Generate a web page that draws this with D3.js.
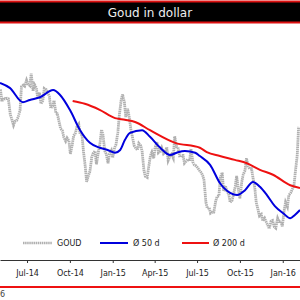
<!DOCTYPE html>
<html><head><meta charset="utf-8">
<script src="https://cdn.jsdelivr.net/npm/d3@7"></script>
<style>body{margin:0;background:#fff}svg{display:block;font-family:"DejaVu Sans",sans-serif}</style>
</head><body><svg id="c" width="300" height="300"></svg>
<script>
const title = "Goud in dollar";
const goldStart = "2014-05-05"; // Monday; two quotes per week (Mon, Thu)
const goldValues = [
1310,1288,1295,1293,1294,1293,1265,1257,1245,1252,1254,1260,1272,1315,1318,1316,1327,1320,1317,1339,
1307,1319,1313,1294,1304,1284,1290,1312,1310,1305,1297,1276,1280,1290,1267,1266,1251,1239,1235,1223,
1216,1222,1217,1193,1209,1226,1231,1242,1247,1229,1228,1199,1170,1142,1154,1161,1187,1194,1198,1174,
1196,1208,1237,1228,1198,1193,1176,1193,1199,1186,1204,1210,1232,1262,1290,1301,1287,1260,1275,1262,
1237,1225,1208,1204,1200,1212,1208,1198,1163,1152,1150,1168,1190,1196,1185,1205,1214,1195,1198,1204,
1193,1195,1205,1181,1189,1192,1185,1225,1206,1205,1187,1190,1190,1176,1180,1183,1180,1202,1178,1173,
1171,1168,1163,1160,1154,1145,1105,1094,1095,1085,1087,1087,1107,1115,1117,1150,1159,1125,1135,1125,
1120,1105,1108,1118,1134,1153,1127,1112,1142,1155,1163,1185,1170,1166,1166,1150,1131,1105,1091,1080,
1083,1071,1076,1070,1063,1057,1071,1072,1060,1058,1076,1070,1070,1061,1090,1105,1097,1118,1122,1128,
1135,1160,1190,1242
];
const ma50Dates = ["2014-05-04","2014-05-25","2014-06-22","2014-07-07","2014-07-29","2014-08-26","2014-09-10","2014-10-01","2014-10-23","2014-11-13","2014-12-04","2014-12-21","2015-01-06","2015-01-17","2015-01-27","2015-02-07","2015-03-05","2015-03-22","2015-04-13","2015-05-04","2015-05-21","2015-06-05","2015-06-27","2015-07-07","2015-07-29","2015-08-19","2015-09-10","2015-09-25","2015-10-12","2015-10-29","2015-11-13","2015-11-28","2015-12-15","2016-01-02","2016-01-17","2016-01-27","2016-02-07"];
const ma50Values = [1322,1313,1287,1291,1296,1309,1300,1273,1236,1213,1204,1200,1195,1200,1218,1231,1236,1224,1204,1191,1196,1198,1195,1189,1173,1140,1122,1118,1127,1142,1133,1118,1098,1085,1076,1082,1091];
const ma200Dates = ["2014-10-07","2014-11-02","2014-12-04","2015-01-06","2015-01-27","2015-02-18","2015-03-22","2015-05-15","2015-07-07","2015-07-22","2015-08-19","2015-09-20","2015-10-16","2015-11-13","2015-12-11","2016-01-17","2016-02-07"];
const ma200Values = [1289,1284,1273,1258,1255,1251,1236,1213,1204,1196,1189,1182,1176,1164,1155,1136,1131];
const legendLabels = ["GOUD","Ø 50 d","Ø 200 d"];
const footText = "6";

const parse = d3.timeParse("%Y-%m-%d");
const svg = d3.select("#c");
const x = d3.scaleTime().domain([parse("2014-05-04"), parse("2016-02-07")]).range([0, 300]);
const y = d3.scaleLinear().domain([1000, 1400]).range([260, 40]);

const start = parse(goldStart);
const gold = goldValues.map((v, i) => ({d: d3.timeDay.offset(start, Math.floor(i/2)*7 + (i%2)*3), v}));
const ma50 = ma50Values.map((v, i) => ({d: parse(ma50Dates[i]), v}));
const ma200 = ma200Values.map((v, i) => ({d: parse(ma200Dates[i]), v}));

svg.append("defs").append("clipPath").attr("id","pc").append("rect").attr("x",0).attr("y",24).attr("width",300).attr("height",236);

const line = d3.line().x(d => x(d.d)).y(d => y(d.v));
const lineC = d3.line().x(d => x(d.d)).y(d => y(d.v)).curve(d3.curveMonotoneX);
const g = svg.append("g").attr("clip-path","url(#pc)");
g.append("path").datum(gold).attr("d", line).attr("fill","none").attr("stroke","#b0b0b0").attr("stroke-width",2.8).attr("stroke-dasharray","1.5,0.6");
g.append("path").datum(ma200).attr("d", lineC).attr("fill","none").attr("stroke","#ee1111").attr("stroke-width",2);
g.append("path").datum(ma50).attr("d", lineC).attr("fill","none").attr("stroke","#0000dd").attr("stroke-width",2);

// title bar
svg.append("rect").attr("x",-5).attr("y",1.5).attr("width",310).attr("height",21).attr("fill","#000").attr("stroke","#dd1111").attr("stroke-width",2);
svg.append("text").attr("x",150).attr("y",17).attr("text-anchor","middle").attr("fill","#eee").attr("font-size",12).text(title);

// axis
const ax = svg.append("g").attr("transform","translate(0,260)")
  .call(d3.axisBottom(x).ticks(d3.timeMonth.every(3)).tickFormat(d3.timeFormat("%b-%y")).tickSize(3).tickSizeOuter(0));
ax.select(".domain").attr("stroke","#333");
ax.selectAll(".tick line").attr("stroke","#333");
ax.selectAll("text").attr("font-size",8).attr("font-family","DejaVu Sans").attr("fill","#222").attr("dy","1.25em");

// legend
const leg = [
  {x1:23,x2:52,tx:57,col:"#b0b0b0",dash:"1.5,0.6",w:2.4},
  {x1:100,x2:128,tx:133,col:"#0000dd",dash:null,w:2},
  {x1:182,x2:209,tx:213,col:"#ee1111",dash:null,w:2}
];
leg.forEach((l,i) => {
  svg.append("line").attr("x1",l.x1).attr("x2",l.x2).attr("y1",243).attr("y2",243).attr("stroke",l.col).attr("stroke-width",l.w).attr("stroke-dasharray",l.dash);
  svg.append("text").attr("x",l.tx).attr("y",246).attr("font-size",8).attr("fill","#222").text(legendLabels[i]);
});

// footer
svg.append("line").attr("x1",0).attr("x2",300).attr("y1",287).attr("y2",287).attr("stroke","#ee1111").attr("stroke-width",2);
svg.append("text").attr("x",0).attr("y",297).attr("font-size",8).attr("fill","#444").text(footText);
</script></body></html>
